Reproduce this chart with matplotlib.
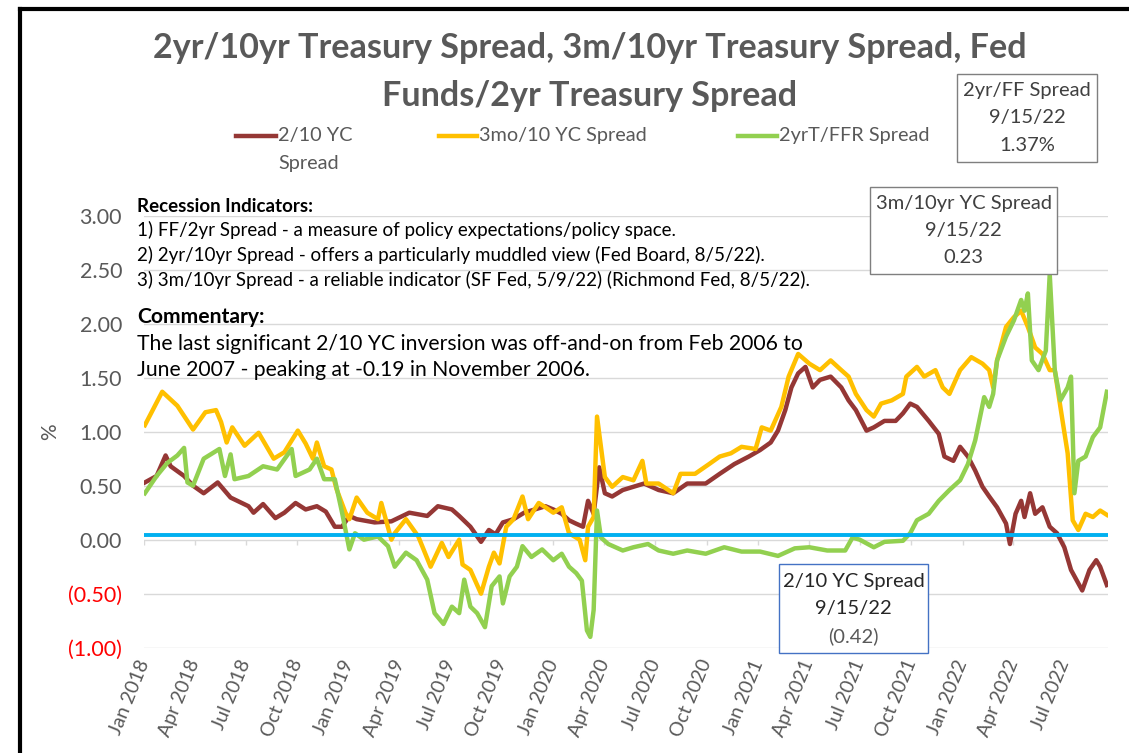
import pandas as pd
import matplotlib
matplotlib.use("Agg")
import matplotlib.pyplot as plt
import matplotlib.dates as mdates
from matplotlib.lines import Line2D
from matplotlib.patches import Rectangle, ConnectionPatch

# === data ===
yc_2_10_dates = [
    "2018-01-02", "2018-01-23", "2018-02-08", "2018-02-17", "2018-03-13", "2018-03-29", "2018-04-17",
    "2018-05-12", "2018-06-04", "2018-07-06", "2018-07-15", "2018-08-01", "2018-08-23", "2018-09-08",
    "2018-09-28", "2018-10-16", "2018-11-05", "2018-11-21", "2018-12-07", "2018-12-20", "2019-01-02",
    "2019-01-15", "2019-02-16", "2019-03-18", "2019-04-19", "2019-05-21", "2019-06-09", "2019-07-04",
    "2019-07-17", "2019-08-06", "2019-08-25", "2019-09-08", "2019-09-20", "2019-10-03", "2019-10-22",
    "2019-11-10", "2019-11-29", "2019-12-18", "2020-01-01", "2020-01-16", "2020-01-29", "2020-02-10",
    "2020-02-23", "2020-03-03", "2020-03-13", "2020-03-23", "2020-04-02", "2020-04-15", "2020-05-04",
    "2020-05-23", "2020-06-11", "2020-07-07", "2020-08-02", "2020-08-27", "2020-09-29", "2020-10-24",
    "2020-11-19", "2020-12-15", "2021-01-04", "2021-01-23", "2021-02-05", "2021-02-18", "2021-03-01",
    "2021-03-13", "2021-03-26", "2021-04-08", "2021-04-21", "2021-05-10", "2021-05-29", "2021-06-11",
    "2021-06-24", "2021-07-13", "2021-07-26", "2021-08-14", "2021-09-03", "2021-09-16", "2021-09-29",
    "2021-10-11", "2021-11-01", "2021-11-19", "2021-11-29", "2021-12-15", "2021-12-27", "2022-01-10",
    "2022-01-23", "2022-02-05", "2022-02-17", "2022-03-03", "2022-03-19", "2022-03-26", "2022-04-05",
    "2022-04-15", "2022-04-21", "2022-05-01", "2022-05-10", "2022-05-23", "2022-06-05", "2022-06-18",
    "2022-07-01", "2022-07-13", "2022-08-02", "2022-08-15", "2022-08-27", "2022-09-03", "2022-09-15",
]
yc_2_10 = [
    0.53, 0.59, 0.78, 0.68, 0.59, 0.50, 0.43,
    0.53, 0.39, 0.31, 0.25, 0.33, 0.20, 0.25,
    0.34, 0.28, 0.31, 0.26, 0.12, 0.12, 0.22,
    0.19, 0.16, 0.17, 0.25, 0.22, 0.31, 0.28,
    0.22, 0.12, -0.02, 0.09, 0.05, 0.16, 0.19,
    0.25, 0.28, 0.31, 0.28, 0.24, 0.18, 0.15,
    0.12, 0.36, 0.24, 0.67, 0.43, 0.40, 0.46,
    0.49, 0.52, 0.46, 0.43, 0.52, 0.52, 0.61,
    0.70, 0.77, 0.83, 0.90, 1.01, 1.20, 1.41,
    1.54, 1.60, 1.41, 1.48, 1.51, 1.41, 1.29,
    1.20, 1.01, 1.04, 1.10, 1.10, 1.17, 1.26,
    1.23, 1.10, 0.98, 0.77, 0.73, 0.86, 0.77,
    0.64, 0.49, 0.40, 0.30, 0.15, -0.04, 0.24,
    0.36, 0.21, 0.43, 0.24, 0.30, 0.12, 0.06,
    -0.07, -0.28, -0.47, -0.28, -0.19, -0.25, -0.42,
]

yc_3m_10_dates = [
    "2018-01-02", "2018-02-02", "2018-03-01", "2018-03-29", "2018-04-20", "2018-05-09", "2018-05-18",
    "2018-05-28", "2018-06-07", "2018-06-29", "2018-07-24", "2018-08-20", "2018-09-08", "2018-10-02",
    "2018-10-16", "2018-10-29", "2018-11-05", "2018-11-18", "2018-12-01", "2018-12-10", "2018-12-26",
    "2019-01-02", "2019-01-15", "2019-02-03", "2019-02-22", "2019-02-28", "2019-03-18", "2019-03-24",
    "2019-04-13", "2019-05-05", "2019-05-27", "2019-06-16", "2019-06-28", "2019-07-17", "2019-07-23",
    "2019-08-06", "2019-08-25", "2019-09-08", "2019-09-17", "2019-09-27", "2019-10-09", "2019-10-22",
    "2019-11-07", "2019-11-17", "2019-12-06", "2019-12-18", "2020-01-01", "2020-01-16", "2020-01-29",
    "2020-02-17", "2020-02-27", "2020-03-03", "2020-03-13", "2020-03-19", "2020-03-26", "2020-04-02",
    "2020-04-15", "2020-05-04", "2020-05-23", "2020-06-08", "2020-06-15", "2020-07-07", "2020-08-02",
    "2020-08-15", "2020-09-10", "2020-10-05", "2020-10-24", "2020-11-13", "2020-12-02", "2020-12-27",
    "2021-01-07", "2021-01-23", "2021-02-11", "2021-02-24", "2021-03-13", "2021-04-02", "2021-04-21",
    "2021-05-10", "2021-05-29", "2021-06-11", "2021-06-24", "2021-07-13", "2021-07-26", "2021-08-08",
    "2021-08-27", "2021-09-16", "2021-09-22", "2021-10-11", "2021-10-24", "2021-11-13", "2021-11-26",
    "2021-12-08", "2021-12-27", "2022-01-16", "2022-02-05", "2022-02-17", "2022-02-24", "2022-03-03",
    "2022-03-19", "2022-04-02", "2022-04-15", "2022-04-27", "2022-05-10", "2022-05-23", "2022-06-05",
    "2022-06-14", "2022-06-24", "2022-07-07", "2022-07-16", "2022-07-26", "2022-08-08", "2022-08-21",
    "2022-09-03", "2022-09-15",
]
yc_3m_10 = [
    1.06, 1.37, 1.24, 1.02, 1.18, 1.20, 1.09,
    0.90, 1.04, 0.87, 0.99, 0.75, 0.81, 1.01,
    0.89, 0.75, 0.90, 0.68, 0.65, 0.47, 0.25,
    0.19, 0.39, 0.25, 0.19, 0.34, 0.00, 0.06,
    0.19, 0.03, -0.25, -0.03, -0.16, 0.00, -0.23,
    -0.28, -0.50, -0.25, -0.12, -0.22, 0.12, 0.19,
    0.40, 0.19, 0.34, 0.30, 0.25, 0.30, 0.06,
    0.00, -0.19, 0.12, 0.21, 1.14, 0.86, 0.58,
    0.49, 0.58, 0.55, 0.73, 0.52, 0.52, 0.43,
    0.61, 0.61, 0.70, 0.77, 0.80, 0.86, 0.84,
    1.04, 1.01, 1.23, 1.51, 1.72, 1.63, 1.57,
    1.66, 1.57, 1.51, 1.35, 1.20, 1.14, 1.26,
    1.29, 1.35, 1.51, 1.60, 1.51, 1.57, 1.41,
    1.35, 1.57, 1.69, 1.63, 1.57, 1.41, 1.66,
    1.97, 2.06, 2.12, 1.97, 1.78, 1.72, 1.57,
    1.57, 1.23, 0.80, 0.18, 0.09, 0.24, 0.21,
    0.27, 0.23,
]

ff_2yr_dates = [
    "2018-01-02", "2018-01-23", "2018-02-11", "2018-03-01", "2018-03-13", "2018-03-19", "2018-03-29",
    "2018-04-17", "2018-05-15", "2018-05-25", "2018-06-04", "2018-06-11", "2018-07-06", "2018-08-01",
    "2018-08-26", "2018-09-21", "2018-09-28", "2018-10-23", "2018-11-05", "2018-11-18", "2018-12-07",
    "2018-12-20", "2019-01-02", "2019-01-12", "2019-01-28", "2019-02-22", "2019-03-12", "2019-03-24",
    "2019-04-13", "2019-05-02", "2019-05-21", "2019-06-03", "2019-06-19", "2019-07-04", "2019-07-17",
    "2019-07-26", "2019-08-06", "2019-08-18", "2019-09-01", "2019-09-13", "2019-09-27", "2019-10-03",
    "2019-10-15", "2019-10-28", "2019-11-07", "2019-11-23", "2019-12-12", "2020-01-01", "2020-01-16",
    "2020-01-29", "2020-02-11", "2020-02-21", "2020-03-01", "2020-03-07", "2020-03-13", "2020-03-19",
    "2020-03-26", "2020-04-08", "2020-05-04", "2020-05-23", "2020-06-18", "2020-07-07", "2020-08-02",
    "2020-08-27", "2020-09-29", "2020-11-01", "2020-12-02", "2021-01-04", "2021-02-05", "2021-03-07",
    "2021-04-02", "2021-05-04", "2021-06-05", "2021-06-18", "2021-07-01", "2021-07-26", "2021-08-14",
    "2021-09-16", "2021-09-29", "2021-10-11", "2021-11-01", "2021-11-19", "2021-12-08", "2021-12-27",
    "2022-01-10", "2022-01-23", "2022-01-29", "2022-02-08", "2022-02-17", "2022-02-24", "2022-03-03",
    "2022-03-19", "2022-04-02", "2022-04-15", "2022-04-21", "2022-04-27", "2022-05-04", "2022-05-16",
    "2022-05-29", "2022-06-05", "2022-06-14", "2022-06-24", "2022-07-07", "2022-07-13", "2022-07-19",
    "2022-07-26", "2022-08-08", "2022-08-21", "2022-09-03", "2022-09-15",
]
ff_2yr = [
    0.43, 0.59, 0.71, 0.78, 0.85, 0.53, 0.50,
    0.75, 0.84, 0.59, 0.79, 0.56, 0.59, 0.68,
    0.65, 0.84, 0.59, 0.65, 0.75, 0.56, 0.56,
    0.25, -0.09, 0.06, 0.00, 0.03, -0.06, -0.25,
    -0.12, -0.19, -0.37, -0.68, -0.78, -0.62, -0.68,
    -0.37, -0.62, -0.68, -0.81, -0.43, -0.34, -0.59,
    -0.34, -0.25, -0.06, -0.16, -0.09, -0.19, -0.13,
    -0.25, -0.31, -0.38, -0.84, -0.90, -0.65, 0.27,
    0.02, -0.04, -0.10, -0.07, -0.04, -0.10, -0.13,
    -0.10, -0.13, -0.07, -0.11, -0.11, -0.15, -0.08,
    -0.07, -0.10, -0.10, 0.02, 0.00, -0.07, -0.02,
    -0.01, 0.06, 0.18, 0.24, 0.36, 0.46, 0.55,
    0.70, 0.92, 1.07, 1.32, 1.23, 1.35, 1.66,
    1.88, 2.03, 2.22, 2.12, 2.28, 1.66, 1.57,
    1.75, 2.46, 1.57, 1.29, 1.41, 1.51, 0.43,
    0.73, 0.77, 0.95, 1.04, 1.37,
]

ZERO_LINE = 0.04

Y_TICKS = [-1.0, -0.5, 0.0, 0.5, 1.0, 1.5, 2.0, 2.5, 3.0]
X_TICKS = [
    "2018-01-01", "2018-04-01", "2018-07-01", "2018-10-01", "2019-01-01", "2019-04-01", "2019-07-01",
    "2019-10-01", "2020-01-01", "2020-04-01", "2020-07-01", "2020-10-01", "2021-01-01", "2021-04-01",
    "2021-07-01", "2021-10-01", "2022-01-01", "2022-04-01", "2022-07-01",
]
X_TICK_LABELS = [
    "Jan 2018", "Apr 2018", "Jul 2018", "Oct 2018", "Jan 2019", "Apr 2019", "Jul 2019",
    "Oct 2019", "Jan 2020", "Apr 2020", "Jul 2020", "Oct 2020", "Jan 2021", "Apr 2021",
    "Jul 2021", "Oct 2021", "Jan 2022", "Apr 2022", "Jul 2022",
]

TITLE_1 = "2yr/10yr Treasury Spread, 3m/10yr Treasury Spread, Fed"
TITLE_2 = "Funds/2yr Treasury Spread"
RECESSION = [
    "1) FF/2yr Spread - a measure of policy expectations/policy space.",
    "2) 2yr/10yr Spread - offers a particularly muddled view (Fed Board, 8/5/22).",
    "3) 3m/10yr Spread - a reliable indicator (SF Fed, 5/9/22) (Richmond Fed, 8/5/22).",
]
COMMENTARY = [
    "The last significant 2/10 YC inversion was off-and-on from Feb 2006 to",
    "June 2007 - peaking at -0.19 in November 2006.",
]

# === style ===
plt.rcParams['font.family'] = ['Lato', 'DejaVu Sans']
GRAY = '#595959'
C_RED, C_YEL, C_GRN, C_BLUE = '#953735', '#FFC000', '#92D050', '#00B0F0'
W, H = 1129, 753


def fx(x):
    return x / W


def fy(y):
    return 1 - y / H


def fmt(v):
    return f"({abs(v):.2f})" if v < 0 else f"{v:.2f}"


fig = plt.figure(figsize=(W / 100, H / 100), dpi=100)
ax = fig.add_axes([fx(144.3), fy(647.7), fx(1108) - fx(144.3), fy(215.7) - fy(647.7)])

d_red = pd.to_datetime(yc_2_10_dates)
d_yel = pd.to_datetime(yc_3m_10_dates)
d_grn = pd.to_datetime(ff_2yr_dates)

l_red, = ax.plot(d_red, yc_2_10, color=C_RED, lw=3.2, solid_joinstyle='round', zorder=3)
l_yel, = ax.plot(d_yel, yc_3m_10, color=C_YEL, lw=3.2, solid_joinstyle='round', zorder=3.1)
l_grn, = ax.plot(d_grn, ff_2yr, color=C_GRN, lw=3.2, solid_joinstyle='round', zorder=3.2)
ax.axhline(ZERO_LINE, color=C_BLUE, lw=2.8, zorder=4)

ax.set_xlim(pd.Timestamp("2018-01-01"), pd.Timestamp("2022-09-17"))
ax.set_ylim(Y_TICKS[0], Y_TICKS[-1])

ax.set_yticks(Y_TICKS)
ax.set_yticklabels([fmt(v) for v in Y_TICKS])
for lab, v in zip(ax.get_yticklabels(), Y_TICKS):
    lab.set_color('#FF0000' if v < 0 else GRAY)
ax.tick_params(axis='y', length=0, pad=16, labelsize=15.5)

tick_dates = pd.to_datetime(X_TICKS)
ax.set_xticks(tick_dates)
ax.set_xticklabels(X_TICK_LABELS, rotation=68, ha='right', va='center', rotation_mode='anchor',
                   color=GRAY, fontsize=14)
ax.tick_params(axis='x', length=0, pad=9)
# small tick marks sit on the zero axis
ax.vlines(tick_dates, -0.05, 0, colors='#D9D9D9', lw=1, zorder=1)

ax.grid(axis='y', color='#D9D9D9', lw=1)
ax.set_axisbelow(True)
for s in ax.spines.values():
    s.set_visible(False)

fig.text(fx(50), fy(432), '%', rotation=90, ha='center', va='center', color=GRAY, fontsize=15)

# title
fig.text(fx(590), fy(48), TITLE_1, ha='center', va='center', fontsize=24.6, weight='bold', color=GRAY)
fig.text(fx(590), fy(96), TITLE_2, ha='center', va='center', fontsize=24.6, weight='bold', color=GRAY)

# legend (drawn by hand to match the wrapped first entry)
legend_items = [(236, 276, l_red, "2/10 YC\nSpread"),
                (439, 477, l_yel, "3mo/10 YC Spread"),
                (738, 777, l_grn, "2yrT/FFR Spread")]
for x0, x1, ln, lab in legend_items:
    fig.add_artist(Line2D([fx(x0), fx(x1)], [fy(136), fy(136)], color=ln.get_color(), lw=3.2,
                          transform=fig.transFigure))
    for k, part in enumerate(lab.split('\n')):
        fig.text(fx(x1 + 2), fy(136 + 28 * k), part, ha='left', va='center', color=GRAY, fontsize=14.3)

# recession indicators / commentary
fig.text(fx(137), fy(206), "Recession Indicators:", weight='bold', fontsize=13.5, va='center')
for i, t in enumerate(RECESSION):
    fig.text(fx(137), fy(230 + 25 * i), t, fontsize=13.5, va='center')
fig.text(fx(137), fy(317), "Commentary:", weight='bold', fontsize=15.2, va='center')
for i, t in enumerate(COMMENTARY):
    fig.text(fx(137), fy(344 + 26 * i), t, fontsize=15.2, va='center')

# value call-outs for the last observation
date_lab = f"{d_red[-1].month}/{d_red[-1].day}/{d_red[-1].strftime('%y')}"
callouts = [
    ((957, 74, 1097, 162), '#7F7F7F', ["2yr/FF Spread", date_lab, f"{ff_2yr[-1]:.2f}%"],
     ['#404040'] * 3, (1097, 118), (mdates.date2num(d_grn[-1]), ff_2yr[-1]),
     'angle,angleA=0,angleB=90,rad=0'),
    ((870, 187, 1057, 274), '#7F7F7F', ["3m/10yr YC Spread", date_lab, fmt(yc_3m_10[-1])],
     ['#404040'] * 3, (1057, 231), (mdates.date2num(d_yel[-1]), yc_3m_10[-1]),
     'angle,angleA=0,angleB=98,rad=0'),
    ((779, 564, 928, 653), '#4472C4', ["2/10 YC Spread", date_lab, fmt(yc_2_10[-1])],
     ['#262626', '#262626', GRAY], (928, 609), (mdates.date2num(d_red[-1]), yc_2_10[-1]),
     'arc3,rad=0'),
]
for (x0, y0, x1, y1), ec, lines, cols, pa, pb, cs in callouts:
    fig.add_artist(Rectangle((fx(x0), fy(y1)), fx(x1) - fx(x0), fy(y0) - fy(y1), fc='white', ec=ec,
                             lw=1, transform=fig.transFigure, zorder=6))
    cy = (y0 + y1) / 2
    for k, (t, c) in enumerate(zip(lines, cols)):
        fig.text(fx((x0 + x1) / 2), fy(cy + (k - 1) * 27.5), t, ha='center', va='center',
                 fontsize=14.5, color=c, zorder=7)
    con = ConnectionPatch(xyA=(pa[0], H - pa[1]), coordsA='figure pixels', xyB=pb, coordsB='data',
                          axesB=ax, color='#A6A6A6', lw=0.9, connectionstyle=cs, zorder=5)
    fig.add_artist(con)

# chart border (left + top)
fig.add_artist(Line2D([fx(20), fx(20)], [fy(9), 0], color='black', lw=3, transform=fig.transFigure))
fig.add_artist(Line2D([fx(20), 1], [fy(9), fy(9)], color='black', lw=3, transform=fig.transFigure))

fig.savefig("out.png", dpi=100, facecolor='white')
